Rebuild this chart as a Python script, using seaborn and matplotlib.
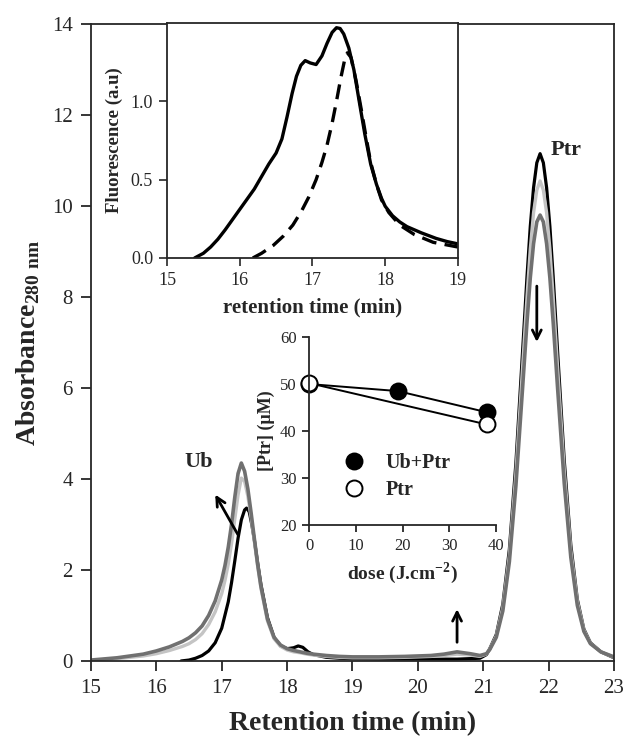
import matplotlib
matplotlib.use("Agg")
import matplotlib.pyplot as plt
import pandas as pd
import seaborn as sns
from matplotlib.lines import Line2D

# --- main chromatogram (absorbance 280 nm) ---
t_grey = [15.0, 15.4, 15.8, 16.0, 16.2, 16.4, 16.5, 16.6, 16.7, 16.8, 16.9, 17.0, 17.05, 17.1,
          17.15, 17.2, 17.25, 17.3, 17.35, 17.4, 17.45, 17.5, 17.55, 17.6, 17.7, 17.8, 17.9, 18.0,
          18.1, 18.2, 18.3, 18.4, 18.6, 18.8, 19.0, 19.4, 19.8, 20.2, 20.4, 20.6, 20.8, 20.95,
          21.05, 21.1, 21.2, 21.3, 21.4, 21.5, 21.6, 21.67, 21.72, 21.77, 21.82, 21.87, 21.92,
          21.97, 22.02, 22.07, 22.14, 22.24, 22.34, 22.44, 22.54, 22.64, 22.8, 23.0]
abs_dark = [0.02, 0.07, 0.15, 0.22, 0.31, 0.43, 0.51, 0.62, 0.77, 1.0, 1.32, 1.78, 2.1, 2.5,
            3.0, 3.6, 4.12, 4.35, 4.17, 3.78, 3.25, 2.68, 2.12, 1.64, 0.92, 0.52, 0.35, 0.27,
            0.23, 0.2, 0.17, 0.15, 0.12, 0.1, 0.09, 0.09, 0.1, 0.12, 0.15, 0.2, 0.16, 0.12,
            0.16, 0.25, 0.52, 1.1, 2.18, 3.85, 5.95, 7.45, 8.42, 9.17, 9.65, 9.8, 9.65,
            9.17, 8.42, 7.45, 5.95, 3.9, 2.28, 1.22, 0.65, 0.38, 0.2, 0.09]
abs_light = [0.01, 0.05, 0.11, 0.16, 0.23, 0.32, 0.38, 0.47, 0.6, 0.8, 1.08, 1.48, 1.77, 2.13,
             2.58, 3.12, 3.65, 4.02, 3.95, 3.62, 3.15, 2.62, 2.08, 1.6, 0.88, 0.49, 0.32, 0.24,
             0.2, 0.18, 0.15, 0.13, 0.1, 0.08, 0.07, 0.07, 0.08, 0.1, 0.12, 0.15, 0.13, 0.1,
             0.15, 0.26, 0.55, 1.18, 2.32, 4.12, 6.4, 8.0, 9.05, 9.85, 10.35, 10.55, 10.35,
             9.85, 9.05, 8.0, 6.4, 4.18, 2.43, 1.3, 0.68, 0.39, 0.2, 0.08]

t_black = [16.38, 16.5, 16.6, 16.7, 16.8, 16.9, 17.0, 17.1, 17.15, 17.2, 17.25, 17.3, 17.35,
           17.38, 17.42, 17.46, 17.5, 17.55, 17.6, 17.7, 17.8, 17.9, 18.0, 18.1, 18.17, 18.24,
           18.32, 18.4, 18.6, 18.8, 19.0, 19.4, 19.8, 20.2, 20.6, 20.95, 21.05, 21.1, 21.2, 21.3,
           21.4, 21.5, 21.6, 21.67, 21.72, 21.77, 21.82, 21.87, 21.92, 21.97, 22.02, 22.07,
           22.14, 22.24, 22.34, 22.44, 22.54, 22.64, 22.8, 23.0]
abs_black = [0.0, 0.02, 0.06, 0.12, 0.22, 0.4, 0.72, 1.3, 1.72, 2.2, 2.7, 3.1, 3.32,
             3.36, 3.28, 3.0, 2.65, 2.15, 1.68, 0.95, 0.52, 0.33, 0.27, 0.29, 0.33, 0.3,
             0.2, 0.14, 0.08, 0.06, 0.05, 0.04, 0.04, 0.04, 0.04, 0.06, 0.14, 0.27, 0.58, 1.25,
             2.45, 4.35, 6.75, 8.45, 9.55, 10.4, 10.95, 11.15, 10.95, 10.4, 9.55, 8.45,
             6.75, 4.4, 2.55, 1.35, 0.7, 0.4, 0.2, 0.07]

# --- inset 1: fluorescence ---
t_fl = [15.38, 15.5, 15.6, 15.7, 15.8, 15.9, 16.0, 16.1, 16.2, 16.3, 16.4, 16.5, 16.58, 16.65,
        16.72, 16.78, 16.84, 16.9, 16.97, 17.05, 17.13, 17.2, 17.27, 17.33, 17.38, 17.43, 17.5,
        17.57, 17.65, 17.72, 17.8, 17.88, 17.95, 18.0, 18.1, 18.2, 18.3, 18.5, 18.7, 18.85, 19.0]
fl_solid = [0.0, 0.03, 0.07, 0.12, 0.18, 0.245, 0.31, 0.375, 0.44, 0.52, 0.6, 0.67, 0.76, 0.9,
            1.05, 1.16, 1.23, 1.26, 1.245, 1.235, 1.29, 1.37, 1.44, 1.47, 1.465, 1.43, 1.34,
            1.2, 0.98, 0.79, 0.6, 0.47, 0.38, 0.33, 0.27, 0.23, 0.2, 0.16, 0.125, 0.105, 0.09]
t_fl_d = [16.18, 16.3, 16.46, 16.6, 16.73, 16.85, 16.95, 17.05, 17.13, 17.2, 17.27, 17.33, 17.39,
          17.44, 17.48, 17.53, 17.6, 17.67, 17.73, 17.8, 17.88, 17.95, 18.05, 18.2, 18.4, 18.66,
          19.0]
fl_dash = [0.0, 0.03, 0.08, 0.14, 0.21, 0.3, 0.39, 0.5, 0.61, 0.72, 0.86, 1.0, 1.15,
           1.26, 1.31, 1.28, 1.13, 0.95, 0.79, 0.61, 0.47, 0.37, 0.29, 0.21, 0.15, 0.1, 0.07]

# --- inset 2: [Ptr] vs dose ---
dose_ubptr = [0, 19, 38]
ptr_ubptr = [50.0, 48.5, 44.0]
dose_ptr = [0, 38]
ptr_ptr = [50.2, 41.4]

sns.set_style("ticks")
plt.rcParams["font.family"] = ["Liberation Serif", "DejaVu Serif"]
plt.rcParams["mathtext.fontset"] = "custom"
plt.rcParams["mathtext.rm"] = "Liberation Serif"
plt.rcParams["mathtext.bf"] = "Liberation Serif:bold"
plt.rcParams["axes.linewidth"] = 1.3

fig = plt.figure(figsize=(6.24, 7.45), dpi=100)
ax = fig.add_axes([0.1458, 0.1128, 0.8381, 0.855])

df_black = pd.DataFrame({"t": t_black, "a": abs_black})
df_light = pd.DataFrame({"t": t_grey, "a": abs_light})
df_dark = pd.DataFrame({"t": t_grey, "a": abs_dark})
sns.lineplot(data=df_black, x="t", y="a", ax=ax, color="black", lw=2.3, sort=False, estimator=None)
sns.lineplot(data=df_light, x="t", y="a", ax=ax, color="#c4c4c4", lw=2.4, sort=False, estimator=None)
sns.lineplot(data=df_dark, x="t", y="a", ax=ax, color="#707070", lw=2.6, sort=False, estimator=None)

ax.set_xlim(15, 23)
ax.set_ylim(0, 14)
ax.set_xticks(range(15, 24))
ax.set_yticks(range(0, 15, 2))
ax.tick_params(direction="out", length=7, width=1.3, labelsize=15, pad=6)
ax.set_xlabel("Retention time (min)", fontsize=20, fontweight="bold")
ax.set_ylabel(r"Absorbance$_{\mathbf{280\ nm}}$", fontsize=20, fontweight="bold")
ax.xaxis.set_label_coords(0.5, -0.079)
ax.yaxis.set_label_coords(-0.094, 0.5)

arrow = dict(arrowstyle="->", color="black", lw=2.0, mutation_scale=16)
ax.annotate("", xy=(16.88, 3.71), xytext=(17.27, 2.72), arrowprops=arrow)
ax.annotate("", xy=(21.82, 6.95), xytext=(21.82, 8.3), arrowprops=arrow)
ax.annotate("", xy=(20.6, 1.2), xytext=(20.6, 0.35), arrowprops=arrow)
ax.text(16.65, 4.37, "Ub", fontsize=16, fontweight="bold", ha="center", va="center")
ax.text(22.27, 11.23, "Ptr", fontsize=16, fontweight="bold", ha="center", va="center")

# inset 1
ax1 = fig.add_axes([0.2676, 0.6537, 0.4663, 0.3154])
ax1.set_facecolor("white")
df_s = pd.DataFrame({"t": t_fl, "f": fl_solid})
df_d = pd.DataFrame({"t": t_fl_d, "f": fl_dash})
sns.lineplot(data=df_s, x="t", y="f", ax=ax1, color="black", lw=2.4, sort=False, estimator=None)
sns.lineplot(data=df_d, x="t", y="f", ax=ax1, color="black", lw=2.4, sort=False, estimator=None)
ax1.lines[-1].set_dashes([4.5, 2.5])
ax1.set_xlim(15, 19)
ax1.set_ylim(0, 1.5)
ax1.set_xticks(range(15, 20))
ax1.set_yticks([0.0, 0.5, 1.0])
ax1.set_yticklabels(["0.0", "0.5", "1.0"])
ax1.tick_params(direction="out", length=6, width=1.2, labelsize=13, pad=4)
ax1.set_xlabel("retention time (min)", fontsize=15, fontweight="bold")
ax1.set_ylabel("Fluorescence (a.u)", fontsize=13.5, fontweight="bold")
ax1.xaxis.set_label_coords(0.5, -0.166)
ax1.yaxis.set_label_coords(-0.151, 0.5)

# inset 2
ax2 = fig.add_axes([0.4952, 0.2953, 0.2997, 0.2523])
ax2.set_facecolor("none")
df_u = pd.DataFrame({"dose": dose_ubptr, "ptr": ptr_ubptr})
df_p = pd.DataFrame({"dose": dose_ptr, "ptr": ptr_ptr})
sns.lineplot(data=df_u, x="dose", y="ptr", ax=ax2, color="black", lw=1.4, marker="o",
             markersize=11.5, markerfacecolor="black", markeredgecolor="black", markeredgewidth=1.4)
sns.lineplot(data=df_p, x="dose", y="ptr", ax=ax2, color="black", lw=1.4, marker="o",
             markersize=11.5, markerfacecolor="white", markeredgecolor="black", markeredgewidth=1.4)
sns.despine(ax=ax2)
ax2.set_xlim(0, 40)
ax2.set_ylim(20, 60)
ax2.set_xticks([0, 10, 20, 30, 40])
ax2.set_yticks([20, 30, 40, 50, 60])
ax2.tick_params(direction="out", length=5, width=1.3, labelsize=12, pad=4)
for ln in ax2.lines:
    ln.set_clip_on(False)
ax2.set_xlabel(r"dose (J.cm$^{\mathbf{-2}}$)", fontsize=14, fontweight="bold")
ax2.set_ylabel("[Ptr] (μM)", fontsize=13, fontweight="bold")
ax2.xaxis.set_label_coords(0.5, -0.19)
ax2.yaxis.set_label_coords(-0.18, 0.5)

handles = [
    Line2D([], [], ls="none", marker="o", markersize=11.5, mfc="black", mec="black", mew=1.4),
    Line2D([], [], ls="none", marker="o", markersize=11.5, mfc="white", mec="black", mew=1.4),
]
leg = ax2.legend(handles, ["Ub+Ptr", "Ptr"], loc="lower left", bbox_to_anchor=(0.12, 0.08),
                 frameon=False, borderpad=0, handlelength=1.2, handletextpad=1.0,
                 labelspacing=0.35, prop={"size": 14.5, "weight": "bold"})

fig.savefig("out.png", dpi=100)
